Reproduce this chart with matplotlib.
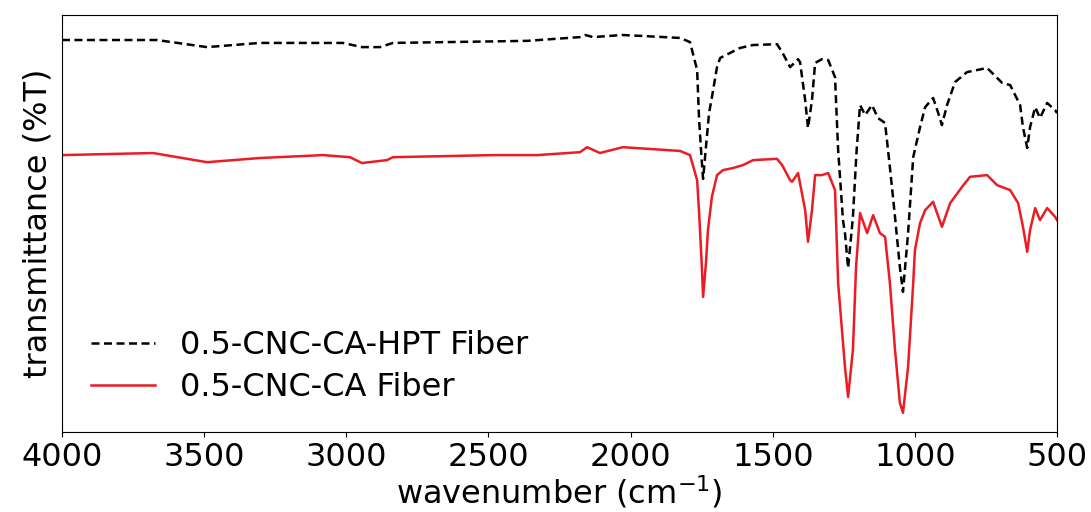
import matplotlib
matplotlib.use("Agg")
import matplotlib.pyplot as plt

# 0.5-CNC-CA-HPT Fiber (black dashed)
wn_hpt = [4000, 3666, 3490, 3304, 3012, 2945, 2881, 2836, 2364, 2178, 2160, 2132, 2030, 1967,
          1826, 1791, 1766, 1759, 1750, 1745, 1735, 1724, 1714, 1696, 1685, 1615, 1569, 1485,
          1467, 1439, 1411, 1404, 1386, 1376, 1362, 1351, 1327, 1305, 1281, 1270, 1253, 1246,
          1235, 1218, 1205, 1193, 1175, 1151, 1130, 1105, 1088, 1070, 1053, 1042, 1024, 1006,
          982, 964, 936, 919, 905, 887, 859, 817, 746, 693, 665, 630, 620, 605, 595, 577, 560,
          535, 507, 500]
t_hpt = [94.0, 94.0, 92.3, 93.3, 93.3, 92.3, 92.3, 93.3, 93.8, 94.7, 95.2, 94.7, 95.2, 95.0,
         94.5, 93.5, 86.8, 74.8, 65.2, 60.7, 68.3, 76.5, 80.3, 87.5, 89.7, 92.1, 92.8, 93.0,
         91.1, 87.5, 89.4, 88.7, 79.6, 72.9, 79.6, 88.5, 89.4, 89.2, 85.1, 67.6, 50.8, 47.7,
         39.3, 51.6, 67.6, 78.4, 76.0, 78.4, 75.3, 74.1, 63.5, 51.6, 39.6, 33.6, 47.7, 65.9,
         73.1, 77.9, 80.1, 76.7, 73.6, 78.4, 83.9, 86.3, 87.3, 83.7, 83.2, 78.4, 73.1, 68.1,
         73.1, 77.9, 75.3, 78.9, 77.2, 76.5]

# 0.5-CNC-CA Fiber (red solid)
wn_ca = [4000, 3680, 3490, 3304, 3082, 2987, 2945, 2857, 2836, 2484, 2329, 2178, 2153, 2108,
         2027, 1826, 1791, 1766, 1759, 1750, 1745, 1735, 1728, 1714, 1696, 1675, 1640, 1605,
         1569, 1485, 1467, 1439, 1432, 1411, 1386, 1376, 1362, 1351, 1327, 1305, 1281, 1270,
         1246, 1235, 1218, 1207, 1193, 1168, 1147, 1123, 1105, 1088, 1070, 1053, 1042, 1024,
         1006, 1000, 982, 964, 936, 905, 876, 834, 806, 746, 711, 665, 637, 620, 605, 595,
         577, 560, 535, 507, 500]
t_ca = [66.4, 66.9, 64.7, 65.7, 66.4, 65.9, 64.5, 65.2, 65.9, 66.4, 66.4, 67.1, 68.3, 66.9,
        68.3, 67.4, 66.4, 60.4, 52.5, 40.5, 32.4, 40.5, 48.4, 56.4, 61.6, 62.8, 63.3, 64.0,
        65.2, 65.5, 64.0, 60.4, 60.0, 62.1, 53.2, 45.6, 53.2, 61.6, 61.6, 62.1, 58.0, 35.7,
        15.6, 8.4, 19.7, 39.6, 52.5, 47.7, 52.0, 47.7, 46.8, 35.7, 19.7, 7.0, 4.6, 15.6,
        35.7, 43.6, 50.1, 53.2, 55.2, 49.2, 54.9, 58.8, 61.2, 61.6, 59.2, 58.0, 54.9, 49.2,
        43.2, 48.4, 53.7, 50.8, 53.7, 51.6, 50.8]

labels = ["0.5-CNC-CA-HPT Fiber", "0.5-CNC-CA Fiber"]
xticks = [4000, 3500, 3000, 2500, 2000, 1500, 1000, 500]

fig = plt.figure(figsize=(10.91, 5.12), dpi=100)
ax = fig.add_axes([0.0568, 0.1563, 0.9121, 0.8144])

ax.plot(wn_hpt, t_hpt, color="black", linestyle="--", linewidth=1.8,
        dashes=(3.2, 1.8), label=labels[0])
ax.plot(wn_ca, t_ca, color="#ec1c24", linestyle="-", linewidth=1.8, label=labels[1])

ax.set_xlim(4000, 500)
ax.set_ylim(0, 100)
ax.set_xticks(xticks)
ax.set_xticklabels([str(v) for v in xticks])
ax.set_yticks([])
ax.tick_params(axis="x", labelsize=23)
ax.set_xlabel("wavenumber (cm$^{-1}$)", fontsize=23, labelpad=1)
ax.set_ylabel("transmittance (%T)", fontsize=23, labelpad=6)

ax.legend(loc="lower left", frameon=False, fontsize=23, handlelength=2.0,
          handletextpad=0.78, labelspacing=0.35, borderaxespad=0.5)

fig.savefig("out.png", dpi=100)
